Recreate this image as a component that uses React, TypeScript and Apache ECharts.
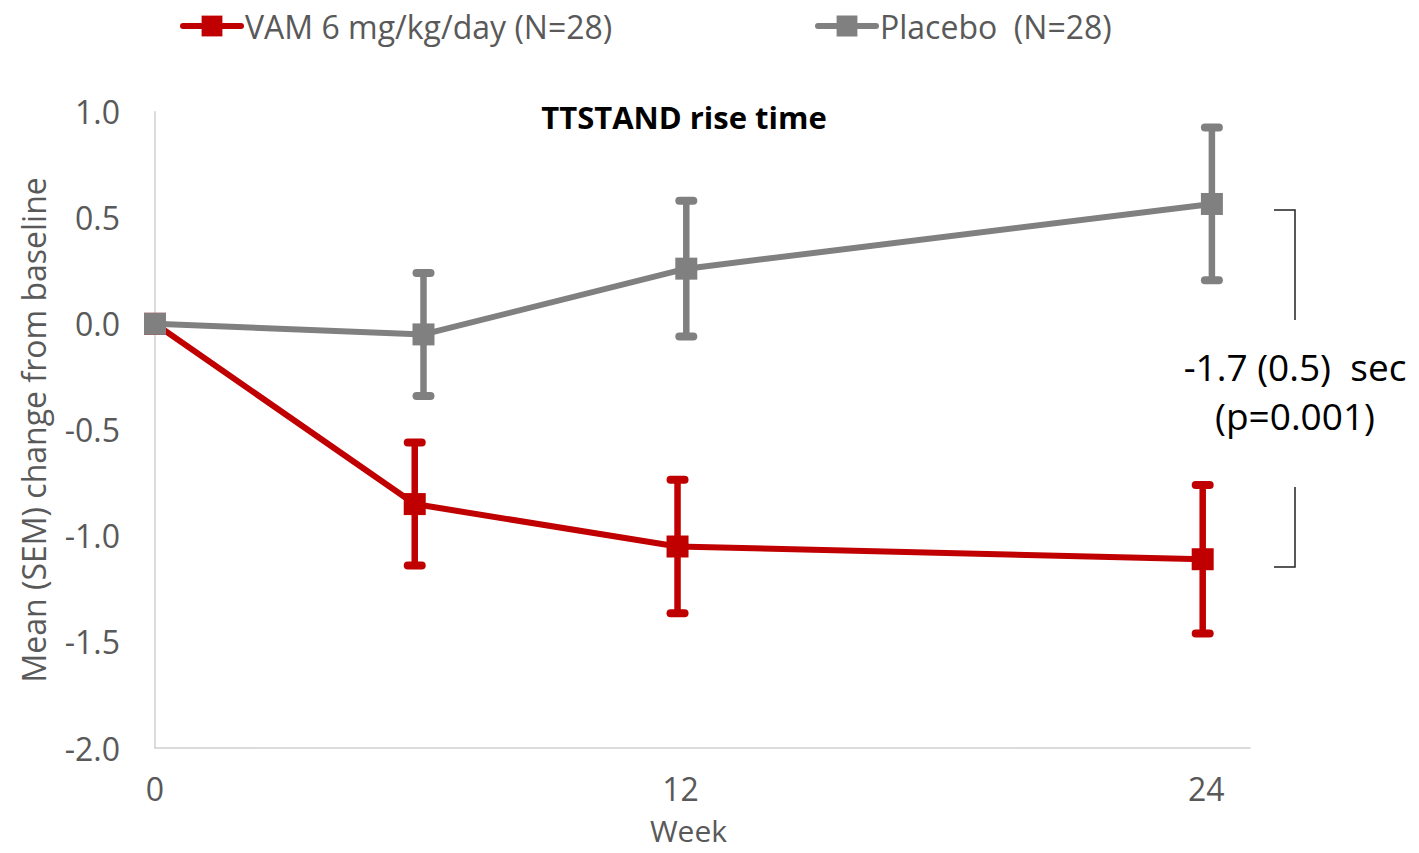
import React, { useEffect, useRef } from "react";
import * as echarts from "echarts";

const seriesNames = ["VAM 6 mg/kg/day (N=28)", "Placebo  (N=28)"];
const xTickLabels = [0, 12, 24];
const vamWeeks = [0, 5.93, 11.93, 23.92];
const vamMean = [0, -0.85, -1.05, -1.11];
const vamSem = [0, 0.29, 0.315, 0.35];
const placeboWeeks = [0, 6.13, 12.13, 24.13];
const placeboMean = [0, -0.05, 0.26, 0.565];
const placeboSem = [0, 0.29, 0.32, 0.36];
const diffText = ["-1.7 (0.5)  sec", "(p=0.001)"];
const titleText = "TTSTAND rise time";

const RED = "#c00000";
const GRAY = "#808080";
const TXT = "#595959";
const FONT = "'Open Sans', 'Noto Sans', sans-serif";

function errorSeries(weeks: number[], mean: number[], sem: number[], color: string) {
  const data = weeks
    .map((w, i) => [w, mean[i] - sem[i], mean[i] + sem[i], sem[i]])
    .filter((d) => d[3] > 0);
  return {
    type: "custom",
    silent: true,
    z: 3,
    data,
    renderItem: (params: any, api: any) => {
      const x = api.value(0);
      const lo = api.coord([x, api.value(1)]);
      const hi = api.coord([x, api.value(2)]);
      const half = 7;
      const style = { stroke: color, lineWidth: 6.5, lineCap: "round" };
      return {
        type: "group",
        children: [
          { type: "line", shape: { x1: lo[0], y1: lo[1], x2: hi[0], y2: hi[1] }, style },
          { type: "line", shape: { x1: lo[0] - half, y1: lo[1], x2: lo[0] + half, y2: lo[1] }, style: { ...style, lineWidth: 8 } },
          { type: "line", shape: { x1: hi[0] - half, y1: hi[1], x2: hi[0] + half, y2: hi[1] }, style: { ...style, lineWidth: 8 } },
        ],
      };
    },
  };
}

export default function App() {
  const ref = useRef<HTMLDivElement>(null);
  useEffect(() => {
    document.body.style.margin = "0";
    const chart = echarts.init(ref.current!, null, { renderer: "svg" });
    const lineSeries = (name: string, weeks: number[], mean: number[], color: string) => ({
      name,
      type: "line",
      data: weeks.map((w, i) => [w, mean[i]]),
      symbol: "rect",
      symbolSize: 22,
      lineStyle: { color, width: 6, cap: "round" },
      itemStyle: { color },
      z: 2,
    });
    const legendBase = {
      top: 10,
      padding: 0,
      itemWidth: 58,
      itemHeight: 26,
      itemGap: 0,
      lineStyle: { width: 6, cap: "round" },
      textStyle: { color: TXT, fontSize: 32, fontFamily: FONT, padding: [0, 0, 0, -1] },
    };
    chart.setOption({
      animation: false,
      legend: [
        { ...legendBase, left: 180, data: [seriesNames[0]] },
        { ...legendBase, left: 815, data: [seriesNames[1]] },
      ],
      grid: { left: 155, right: 169, top: 111.7, bottom: 105, outerBoundsMode: "none", containLabel: false },
      xAxis: {
        type: "value",
        min: 0,
        max: 25,
        interval: 12,
        name: "Week",
        nameLocation: "middle",
        nameGap: 67,
        nameTextStyle: { color: TXT, fontSize: 30, fontFamily: FONT, padding: [0, 28, 0, 0], lineHeight: 30 },
        axisLine: { onZero: false, lineStyle: { color: "#d0d0d0", width: 1.5 } },
        axisTick: { show: false },
        splitLine: { show: false },
        axisLabel: {
          color: TXT,
          fontSize: 32,
          fontFamily: FONT,
          margin: 26,
          lineHeight: 28,
          formatter: (v: number) => (xTickLabels.includes(v) ? String(v) : ""),
        },
      },
      yAxis: {
        type: "value",
        min: -2,
        max: 1,
        interval: 0.5,
        name: "Mean (SEM) change from baseline",
        nameLocation: "middle",
        nameGap: 106,
        nameTextStyle: { color: TXT, fontSize: 32, fontFamily: FONT },
        axisLine: { show: true, onZero: false, lineStyle: { color: "#d0d0d0", width: 1.5 } },
        axisTick: { show: false },
        splitLine: { show: false },
        axisLabel: {
          color: TXT,
          fontSize: 32,
          fontFamily: FONT,
          margin: 35,
          formatter: (v: number) => v.toFixed(1),
        },
      },
      graphic: [
        {
          type: "text",
          x: 684,
          y: 117,
          style: { text: titleText, fill: "#000", font: `bold 31px ${FONT}`, textAlign: "center", textVerticalAlign: "middle" },
        },
        {
          type: "text",
          x: 1295,
          y: 366,
          style: { text: diffText[0], fill: "#000", font: `37px ${FONT}`, textAlign: "center", textVerticalAlign: "middle" },
        },
        {
          type: "text",
          x: 1295,
          y: 415,
          style: { text: diffText[1], fill: "#000", font: `37px ${FONT}`, textAlign: "center", textVerticalAlign: "middle" },
        },
        {
          type: "polyline",
          shape: { points: [[1274, 210], [1295, 210], [1295, 320]] },
          style: { stroke: "#222", lineWidth: 1.5, fill: null },
        },
        {
          type: "polyline",
          shape: { points: [[1295, 487], [1295, 567], [1274, 567]] },
          style: { stroke: "#222", lineWidth: 1.5, fill: null },
        },
      ],
      series: [
        lineSeries(seriesNames[0], vamWeeks, vamMean, RED),
        lineSeries(seriesNames[1], placeboWeeks, placeboMean, GRAY),
        errorSeries(vamWeeks, vamMean, vamSem, RED),
        errorSeries(placeboWeeks, placeboMean, placeboSem, GRAY),
      ],
    });
    return () => chart.dispose();
  }, []);
  return <div ref={ref} style={{ width: 1419, height: 853 }} />;
}
